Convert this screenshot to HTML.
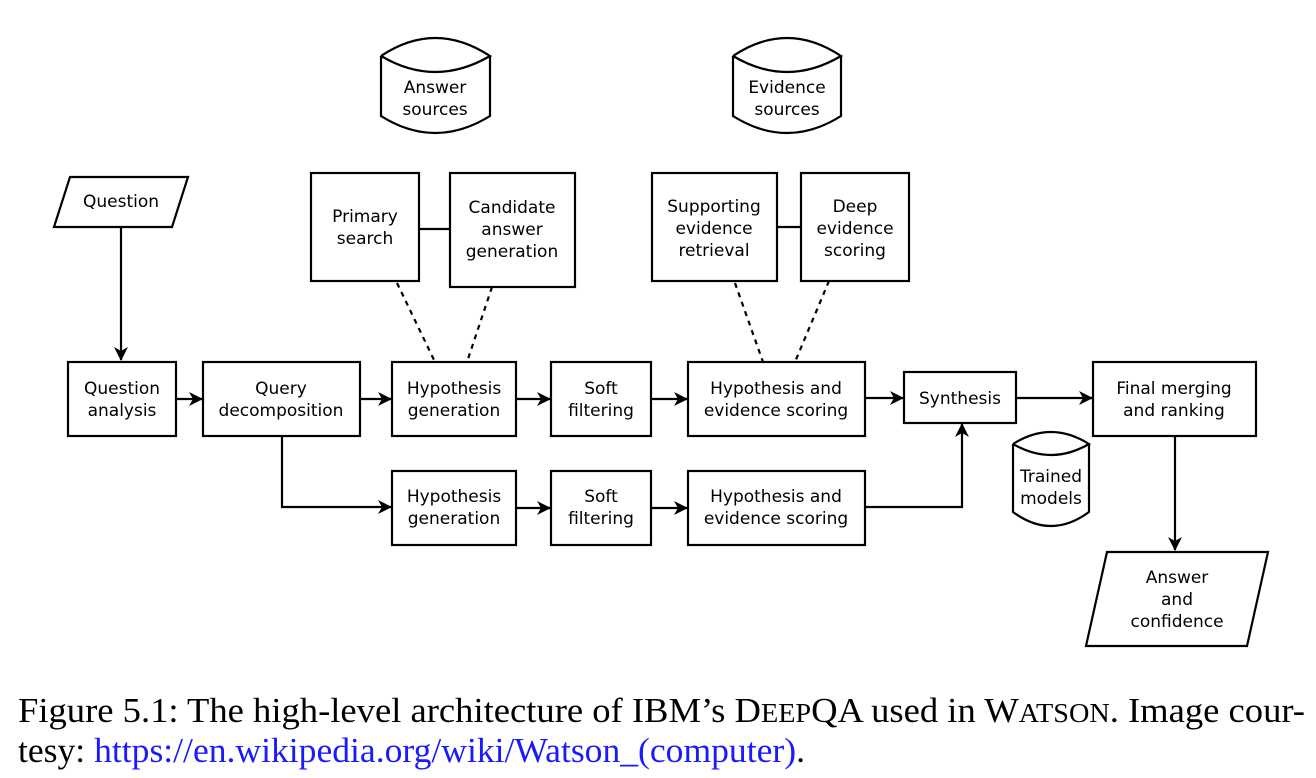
<!DOCTYPE html>
<html><head><meta charset="utf-8"><style>
body{margin:0;background:#fff;width:1316px;height:778px;overflow:hidden;position:relative}
svg{position:absolute;left:0;top:0}
</style></head><body>
<svg width="1316" height="778" viewBox="0 0 1316 778">
<defs><marker id="ah" markerWidth="14" markerHeight="14" refX="13" refY="7" orient="auto" markerUnits="userSpaceOnUse"><path d="M0,0 L14,7 L0,14 L4,7 z" fill="#000"/></marker></defs>
<g fill="none" stroke="#000" stroke-width="2.2">
<polygon points="70,177 188,177 172,227 54,227"/>
<rect x="68" y="362" width="108" height="74"/>
<rect x="203" y="362" width="157" height="74"/>
<rect x="392" y="362" width="124" height="74"/>
<rect x="551" y="362" width="100" height="74"/>
<rect x="688" y="362" width="177" height="74"/>
<rect x="904" y="372" width="112" height="51"/>
<rect x="1093" y="362" width="163" height="74"/>
<rect x="392" y="471" width="124" height="74"/>
<rect x="551" y="471" width="100" height="74"/>
<rect x="688" y="471" width="177" height="74"/>
<rect x="311" y="173" width="108" height="108"/>
<rect x="450" y="173" width="125" height="114"/>
<rect x="652" y="173" width="125" height="108"/>
<rect x="801" y="173" width="108" height="108"/>
<path d="M381,56 Q435,20 490,56 Q435,88 381,56 M381,56 L381,116 Q435,150 490,116 L490,56"/>
<path d="M733,56 Q787,20 841,56 Q787,88 733,56 M733,56 L733,116 Q787,150 841,116 L841,56"/>
<path d="M1013,444 Q1051,420 1089,444 Q1051,466 1013,444 M1013,444 L1013,512 Q1051,540 1089,512 L1089,444"/>
<polygon points="1107,552 1268,552 1247,646 1086,646"/>
<line x1="419" y1="229" x2="450" y2="229"/>
<line x1="777" y1="227" x2="801" y2="227"/>
<g stroke-dasharray="5,5">
<line x1="397" y1="283" x2="435" y2="362"/>
<line x1="492" y1="287" x2="467" y2="362"/>
<line x1="735" y1="283" x2="763" y2="362"/>
<line x1="829" y1="281" x2="795" y2="362"/>
</g>
<g marker-end="url(#ah)">
<line x1="121" y1="227" x2="121" y2="360"/>
<line x1="176" y1="399" x2="202" y2="399"/>
<line x1="360" y1="399" x2="391" y2="399"/>
<line x1="516" y1="399" x2="550" y2="399"/>
<line x1="651" y1="399" x2="687" y2="399"/>
<line x1="865" y1="398" x2="903" y2="398"/>
<line x1="1016" y1="398" x2="1092" y2="398"/>
<polyline points="282,436 282,507 391,507"/>
<line x1="516" y1="508" x2="550" y2="508"/>
<line x1="651" y1="508" x2="687" y2="508"/>
<polyline points="865,507 962,507 962,424"/>
<line x1="1175" y1="436" x2="1175" y2="550"/>
</g>
</g>
<g font-family="'DejaVu Sans',sans-serif" font-size="17" text-anchor="middle" fill="#000">
<text x="121" y="207">Question</text>
<text x="122" y="394">Question</text><text x="122" y="416">analysis</text>
<text x="281" y="394">Query</text><text x="281" y="416">decomposition</text>
<text x="454" y="394">Hypothesis</text><text x="454" y="416">generation</text>
<text x="601" y="394">Soft</text><text x="601" y="416">filtering</text>
<text x="776" y="394">Hypothesis and</text><text x="776" y="416">evidence scoring</text>
<text x="960" y="404">Synthesis</text>
<text x="1174" y="394">Final merging</text><text x="1174" y="416">and ranking</text>
<text x="454" y="502">Hypothesis</text><text x="454" y="524">generation</text>
<text x="601" y="502">Soft</text><text x="601" y="524">filtering</text>
<text x="776" y="502">Hypothesis and</text><text x="776" y="524">evidence scoring</text>
<text x="365" y="222">Primary</text><text x="365" y="244">search</text>
<text x="512" y="213">Candidate</text><text x="512" y="235">answer</text><text x="512" y="257">generation</text>
<text x="714" y="212">Supporting</text><text x="714" y="234">evidence</text><text x="714" y="256">retrieval</text>
<text x="855" y="212">Deep</text><text x="855" y="234">evidence</text><text x="855" y="256">scoring</text>
<text x="435" y="93">Answer</text><text x="435" y="115">sources</text>
<text x="787" y="93">Evidence</text><text x="787" y="115">sources</text>
<text x="1051" y="482">Trained</text><text x="1051" y="504">models</text>
<text x="1177" y="583">Answer</text><text x="1177" y="605">and</text><text x="1177" y="627">confidence</text>
</g>
<g font-family="'Liberation Serif',serif" font-size="35" fill="#000">
<text x="18" y="722" textLength="1287" lengthAdjust="spacingAndGlyphs">Figure 5.1: The high-level architecture of IBM’s D<tspan font-size="27">EEP</tspan>QA used in W<tspan font-size="27">ATSON</tspan>. Image cour-</text>
<text x="18" y="762" textLength="787" lengthAdjust="spacingAndGlyphs">tesy: <tspan fill="#1a1aff">https://en.wikipedia.org/wiki/Watson_(computer)</tspan>.</text>
</g>
</svg>
</body></html>
